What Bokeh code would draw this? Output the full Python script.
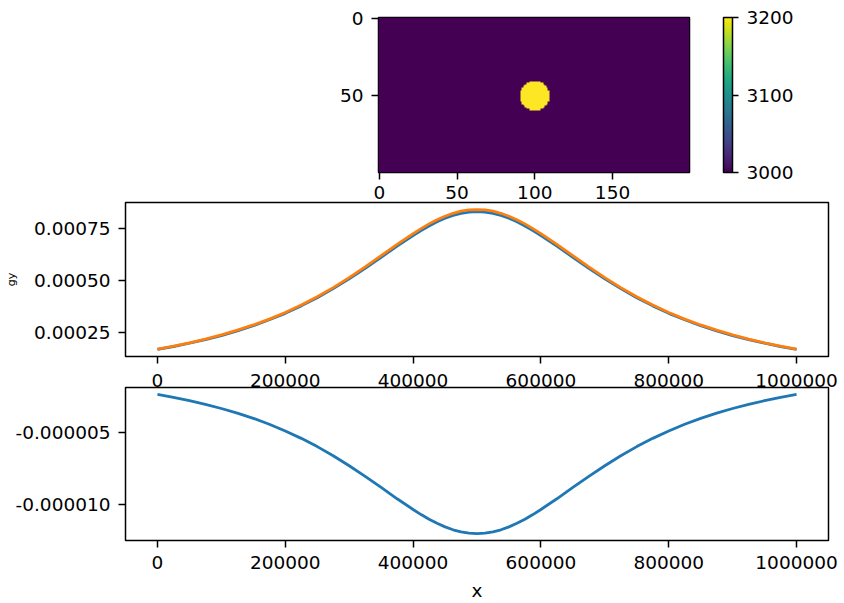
import numpy as np
from bokeh.plotting import figure
from bokeh.models import (LinearColorMapper, ColorBar, FixedTicker,
                          PrintfTickFormatter, Range1d)
from bokeh.palettes import Viridis256
from bokeh.embed import file_html
from bokeh.resources import INLINE

# ---- model grid (density) ----
NX = 200
NZ = 100
BACKGROUND = 3000
ANOMALY = 3200
CENTER_X = 100
CENTER_Z = 50
RADIUS = 9.5
CBAR_TICKS = [3000, 3100, 3200]

# ---- profiles ----
x_profile = [0, 25000, 50000, 75000, 100000, 125000, 150000, 175000, 200000,
             225000, 250000, 275000, 300000, 325000, 350000, 375000, 400000,
             412500, 425000, 437500, 450000, 462500, 475000, 487500, 500000,
             512500, 525000, 537500, 550000, 562500, 575000, 587500, 600000,
             625000, 650000, 675000, 700000, 725000, 750000, 775000, 800000,
             825000, 850000, 875000, 900000, 925000, 950000, 975000, 1000000]
gy_blue = [0.000166, 0.000180, 0.000196, 0.000213, 0.000233, 0.000255, 0.000280,
           0.000309, 0.000340, 0.000376, 0.000415, 0.000459, 0.000506, 0.000557,
           0.000610, 0.000664, 0.000715, 0.000739, 0.000761, 0.000781, 0.000798,
           0.000812, 0.000822, 0.000828, 0.000830,
           0.000828, 0.000822, 0.000812, 0.000798, 0.000781, 0.000761, 0.000739,
           0.000715, 0.000664, 0.000610, 0.000557, 0.000506, 0.000459, 0.000415,
           0.000376, 0.000340, 0.000309, 0.000280, 0.000255, 0.000233, 0.000213,
           0.000196, 0.000180, 0.000166]
gy_orange = [0.000168, 0.000182, 0.000198, 0.000216, 0.000236, 0.000259, 0.000284,
             0.000312, 0.000344, 0.000380, 0.000420, 0.000464, 0.000512, 0.000564,
             0.000618, 0.000672, 0.000724, 0.000748, 0.000771, 0.000791, 0.000808,
             0.000822, 0.000832, 0.000838, 0.000840,
             0.000838, 0.000832, 0.000822, 0.000808, 0.000791, 0.000771, 0.000748,
             0.000724, 0.000672, 0.000618, 0.000564, 0.000512, 0.000464, 0.000420,
             0.000380, 0.000344, 0.000312, 0.000284, 0.000259, 0.000236, 0.000216,
             0.000198, 0.000182, 0.000168]
bottom_vals = [-0.00000240, -0.00000260, -0.00000283, -0.00000308, -0.00000337,
               -0.00000369, -0.00000405, -0.00000446, -0.00000492, -0.00000543,
               -0.00000600, -0.00000663, -0.00000732, -0.00000805, -0.00000882,
               -0.00000960, -0.00001034, -0.00001069, -0.00001101, -0.00001129,
               -0.00001154, -0.00001174, -0.00001188, -0.00001197, -0.00001200,
               -0.00001197, -0.00001188, -0.00001174, -0.00001154, -0.00001129,
               -0.00001101, -0.00001069, -0.00001034, -0.00000960, -0.00000882,
               -0.00000805, -0.00000732, -0.00000663, -0.00000600, -0.00000543,
               -0.00000492, -0.00000446, -0.00000405, -0.00000369, -0.00000337,
               -0.00000308, -0.00000283, -0.00000260, -0.00000240]

x_ticks = [0, 200000, 400000, 600000, 800000, 1000000]
mid_y_ticks = [0.00025, 0.00050, 0.00075]
bot_y_ticks = [-0.000010, -0.000005]
img_x_ticks = [0, 50, 100, 150]
img_y_ticks = [0, 50]

FONT = "DejaVu Sans"
FS = "18.5px"
BLUE = "#1f77b4"
ORANGE = "#ff7f0e"


def style(p, transparent=False):
    p.outline_line_color = "black"
    p.outline_line_width = 1.5
    p.grid.visible = False
    p.background_fill_color = "white"
    p.border_fill_color = None if transparent else "white"
    for ax in p.axis:
        ax.axis_line_color = None
        ax.major_tick_out = 7
        ax.major_tick_in = 0
        ax.minor_tick_line_color = None
        ax.major_tick_line_color = "black"
        ax.major_tick_line_width = 1.5
        ax.major_label_text_font = FONT
        ax.major_label_text_font_size = FS
        ax.major_label_text_color = "black"
        ax.axis_label_text_font = FONT
        ax.axis_label_text_color = "black"
        ax.axis_label_text_font_style = "normal"


# ---- top: image ----
grid = np.full((NZ, NX), float(BACKGROUND))
zz, xx = np.mgrid[0:NZ, 0:NX]
grid[(xx - CENTER_X) ** 2 + (zz - CENTER_Z) ** 2 <= RADIUS ** 2] = ANOMALY

mapper = LinearColorMapper(palette=Viridis256, low=BACKGROUND, high=ANOMALY)
p1 = figure(width=844, height=212, output_backend="svg", toolbar_location=None,
            x_range=Range1d(-0.5, NX - 0.5), y_range=Range1d(NZ - 0.5, -0.5),
            min_border_top=17, min_border_left=378, min_border_right=155,
            min_border_bottom=40)
p1.image(image=[grid], x=-0.5, y=-0.5, dw=NX, dh=NZ, color_mapper=mapper)
style(p1)
p1.xaxis.ticker = FixedTicker(ticks=img_x_ticks)
p1.yaxis.ticker = FixedTicker(ticks=img_y_ticks)
p1.xaxis.major_label_standoff = 6
p1.yaxis.major_label_standoff = 8

cb = ColorBar(color_mapper=mapper, width=9, height=155, padding=0, margin=0,
              location=(34, 0), ticker=FixedTicker(ticks=CBAR_TICKS),
              major_tick_out=6, major_tick_in=0,
              major_tick_line_color="black", major_tick_line_width=1.5,
              bar_line_color="black", bar_line_width=1.5,
              border_line_color=None, background_fill_color=None,
              major_label_text_font=FONT, major_label_text_font_size=FS,
              major_label_text_color="black", label_standoff=8)
p1.add_layout(cb, "right")

# ---- middle: g_y ----
p2 = figure(width=844, height=200, output_backend="svg", toolbar_location=None,
            x_range=Range1d(-50000, 1050000), y_range=Range1d(0.000132, 0.000874),
            min_border_top=1, min_border_left=125, min_border_right=16,
            min_border_bottom=45, styles={"margin-top": "-11px"})
p2.line(x_profile, gy_blue, line_color=BLUE, line_width=2.8)
p2.line(x_profile, gy_orange, line_color=ORANGE, line_width=2.8)
style(p2, transparent=True)
p2.xaxis.ticker = FixedTicker(ticks=x_ticks)
p2.xaxis.formatter = PrintfTickFormatter(format="%d")
p2.xaxis.major_label_standoff = 10
p2.yaxis.ticker = FixedTicker(ticks=mid_y_ticks)
p2.yaxis.formatter = PrintfTickFormatter(format="%.5f")
p2.yaxis.major_label_standoff = 8
p2.yaxis.axis_label = "gy"
p2.yaxis.axis_label_text_font_size = "11px"
p2.yaxis.axis_label_standoff = 13

# ---- bottom ----
p3 = figure(width=844, height=217, output_backend="svg", toolbar_location=None,
            x_range=Range1d(-50000, 1050000), y_range=Range1d(-0.00001248, -0.00000192),
            min_border_top=1, min_border_left=125, min_border_right=16,
            min_border_bottom=62, styles={"margin-top": "-15px"})
p3.line(x_profile, bottom_vals, line_color=BLUE, line_width=2.8)
style(p3, transparent=True)
p3.xaxis.ticker = FixedTicker(ticks=x_ticks)
p3.xaxis.formatter = PrintfTickFormatter(format="%d")
p3.xaxis.major_label_standoff = 8
p3.xaxis.axis_label = "x"
p3.xaxis.axis_label_text_font_size = FS
p3.xaxis.axis_label_standoff = 8
p3.yaxis.ticker = FixedTicker(ticks=bot_y_ticks)
p3.yaxis.formatter = PrintfTickFormatter(format="%.6f")
p3.yaxis.major_label_standoff = 8

open("out.html", "w").write(file_html([p1, p2, p3], INLINE))
